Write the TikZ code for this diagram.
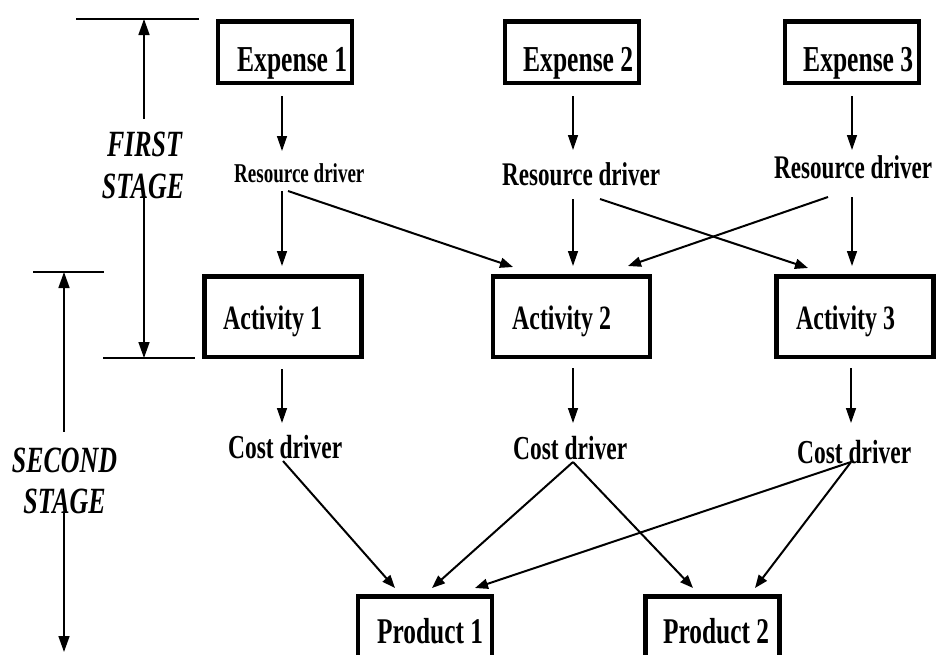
\documentclass[tikz,border=0pt]{standalone}
\usepackage{fontspec}
\setmainfont{Liberation Serif}[FakeStretch=0.70]
\usetikzlibrary{arrows.meta}
\begin{document}
\begin{tikzpicture}[x=1pt,y=-1pt,
  box/.style={draw, rectangle, line width=4.5pt, inner sep=0pt},
  ebox/.style={box, minimum width=134pt, minimum height=61.5pt},
  abox/.style={box, minimum width=157pt, minimum height=80.5pt},
  pbox/.style={box, minimum width=134pt, minimum height=87.5pt},
  txt/.style={anchor=base west, inner sep=0pt},
  etext/.style={txt, font=\fontsize{36.5}{42}\selectfont\bfseries},
  atext/.style={txt, font=\fontsize{34.1}{40}\selectfont\bfseries},
  ptext/.style={txt, font=\fontsize{36.2}{42}\selectfont\bfseries},
  rsmall/.style={txt, font=\fontsize{27.2}{32}\selectfont\bfseries},
  rlarge/.style={txt, font=\fontsize{33}{38}\selectfont\bfseries},
  ctext/.style={txt, font=\fontsize{33.5}{38}\selectfont\bfseries},
  stagetext/.style={anchor=base, inner sep=0pt, font=\fontsize{37}{42}\selectfont\bfseries\itshape},
  varr/.style={line width=1.4pt, -{Triangle[length=15pt,width=10pt]}},
  darr/.style={line width=2pt, -{Triangle[length=13pt,width=10pt]}},
  sarr/.style={line width=1.5pt, -{Triangle[length=16pt,width=11pt]}},
  bar/.style={line width=2.5pt},
]
\useasboundingbox (0,0) rectangle (940,654);
\clip (0,0) rectangle (940,654);

% expense boxes
\node[ebox] (e1) at (285,52) {};
\node[ebox] (e2) at (572,52) {};
\node[ebox] (e3) at (852,52) {};
\node[etext] (te1) at (237,71) {Expense 1};
\node[etext] (te2) at (523,71) {Expense 2};
\node[etext] (te3) at (803,71) {Expense 3};

% resource drivers
\node[rsmall] (r1) at (234,182) {Resource driver};
\node[rlarge] (r2) at (502,185) {Resource driver};
\node[rlarge] (r3) at (774,178) {Resource driver};

% activity boxes
\node[abox] (a1) at (283,316.5) {};
\node[abox] (a2) at (571.5,316.5) {};
\node[abox] (a3) at (855,316.5) {};
\node[atext] (ta1) at (223,329) {Activity 1};
\node[atext] (ta2) at (512,329) {Activity 2};
\node[atext] (ta3) at (796,329) {Activity 3};

% cost drivers
\node[ctext] (c1) at (228,458) {Cost driver};
\node[ctext] (c2) at (513,459) {Cost driver};
\node[ctext] (c3) at (797,463) {Cost driver};

% product boxes
\node[pbox] (p1) at (425,640) {};
\node[pbox] (p2) at (712.5,640) {};
\node[ptext] (tp1) at (377,643) {Product 1};
\node[ptext] (tp2) at (663,643) {Product 2};

% expense -> resource driver
\draw[varr] ([xshift=-3pt,yshift=-11pt]e1.south) -- ([xshift=48pt,yshift=31pt]r1.base west);
\draw[varr] ([xshift=1pt,yshift=-11pt]e2.south) -- ([xshift=71pt,yshift=35pt]r2.base west);
\draw[varr] ([yshift=-11pt]e3.south) -- ([xshift=78pt,yshift=28pt]r3.base west);

% resource driver -> activity
\draw[varr] ([xshift=48pt,yshift=-9pt]r1.base west) -- ([xshift=-1pt,yshift=8pt]a1.north);
\draw[darr] ([xshift=54pt,yshift=-9pt]r1.base west) -- ([xshift=-58.5pt,yshift=7pt]a2.north);
\draw[varr] ([xshift=71pt,yshift=-14pt]r2.base west) -- ([xshift=1.5pt,yshift=8pt]a2.north);
\draw[darr] ([xshift=98pt,yshift=-14pt]r2.base west) -- ([xshift=-47pt,yshift=6pt]a3.north);
\draw[varr] ([xshift=78pt,yshift=-19pt]r3.base west) -- ([xshift=-3pt,yshift=8pt]a3.north);
\draw[darr] ([xshift=54pt,yshift=-19pt]r3.base west) -- ([xshift=56.5pt,yshift=8pt]a2.north);

% activity -> cost driver
\draw[varr] ([xshift=-1pt,yshift=-10pt]a1.south) -- ([xshift=54pt,yshift=35pt]c1.base west);
\draw[varr] ([xshift=1.5pt,yshift=-9pt]a2.south) -- ([xshift=60pt,yshift=36pt]c2.base west);
\draw[varr] ([xshift=-4pt,yshift=-9pt]a3.south) -- ([xshift=54pt,yshift=40pt]c3.base west);

% cost driver -> product
\draw[darr] ([xshift=55pt,yshift=-3pt]c1.base west) -- ([xshift=-30pt,yshift=6pt]p1.north);
\draw[darr] ([xshift=60pt,yshift=-3pt]c2.base west) -- ([xshift=7pt,yshift=6pt]p1.north);
\draw[darr] ([xshift=60pt,yshift=-3pt]c2.base west) -- ([xshift=-19.5pt,yshift=6pt]p2.north);
\draw[darr] ([xshift=54pt,yshift=1pt]c3.base west) -- ([xshift=50pt,yshift=6pt]p1.north);
\draw[darr] ([xshift=54pt,yshift=1pt]c3.base west) -- ([xshift=42.5pt,yshift=6pt]p2.north);

% first stage marker
\draw[bar] (76,19) -- (199,19);
\draw[bar] (103,358) -- (195,358);
\coordinate (s1top) at (144,19);
\coordinate (s1bot) at (144,358);
\node[stagetext] (f1) at (144.5,156) {FIRST};
\node[stagetext] (f2) at (143,198) {STAGE};
\draw[sarr] ([xshift=-0.5pt,yshift=12.5pt]f1.north) -- (s1top);
\draw[sarr] ([xshift=1pt,yshift=1pt]f2.base) -- (s1bot);

% second stage marker
\draw[bar] (33,272) -- (104,272);
\coordinate (s2top) at (64,272);
\coordinate (s2bot) at (64,652);
\node[stagetext] (g1) at (64.5,472) {SECOND};
\node[stagetext] (g2) at (64.5,513) {STAGE};
\draw[sarr] ([xshift=-0.5pt,yshift=15.5pt]g1.north) -- (s2top);
\draw[sarr] ([xshift=-0.5pt,yshift=1pt]g2.base) -- (s2bot);
\end{tikzpicture}
\end{document}
